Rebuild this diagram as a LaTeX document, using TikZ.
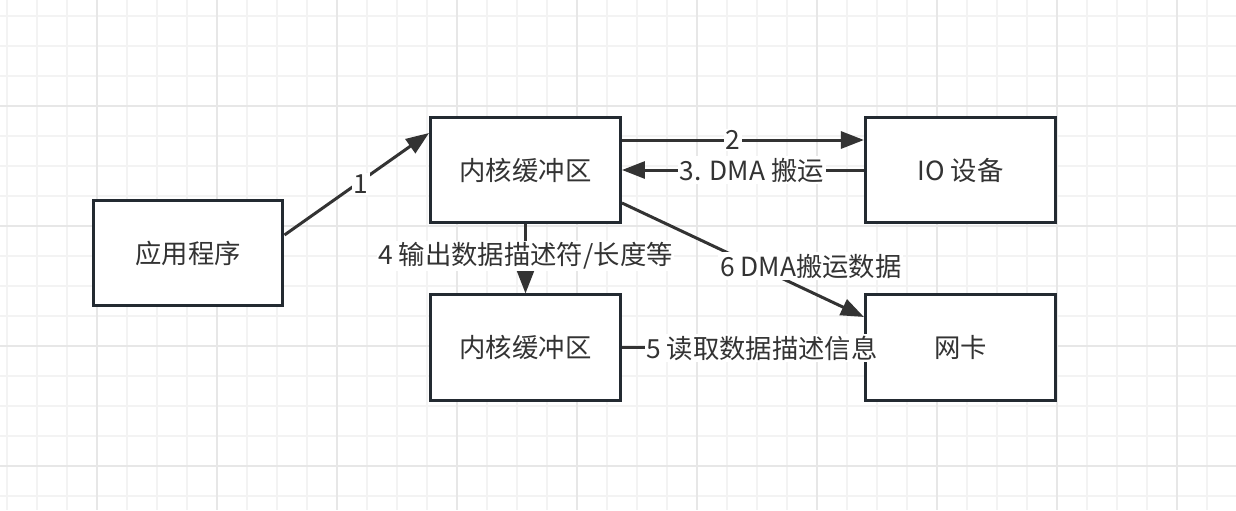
\documentclass[tikz,border=0pt]{standalone}
\usepackage{fontspec}
\setmainfont{Noto Sans CJK SC}
\usetikzlibrary{arrows.meta, positioning}

\definecolor{ink}{HTML}{333333}
\definecolor{edge}{HTML}{232A31}
\definecolor{gridminor}{HTML}{F3F3F3}
\definecolor{gridmajor}{HTML}{E7E7E7}

\begin{document}
\begin{tikzpicture}[
  x=0.02cm, y=-0.02cm,
  font=\fontsize{15}{18}\selectfont,
  node distance=1.38cm and 4.84cm,
  box/.style={draw=edge, line width=0.06cm, fill=white, text=ink, minimum width=3.8cm, minimum height=2.12cm, inner sep=0pt},
  arrow/.style={-{Triangle[length=0.46cm, width=0.34cm]}, draw=ink, line width=0.06cm},
  link/.style={draw=ink, line width=0.06cm},
  lbl/.style={fill=white, text=ink, inner sep=1pt},
  minor/.style={draw=gridminor, line width=0.03cm},
  major/.style={draw=gridmajor, line width=0.03cm}
]
\useasboundingbox (0,0) rectangle (1236,510);
\fill[white] (0,0) rectangle (1236,510);

% background grid
\foreach \gx in {7,37,...,1237} \draw[minor] (\gx,0) -- (\gx,510);
\foreach \gy in {16,46,...,506} \draw[minor] (0,\gy) -- (1236,\gy);
\foreach \gx in {97,217,...,1177} \draw[major] (\gx,0) -- (\gx,510);
\foreach \gy in {106,226,346,466} \draw[major] (0,\gy) -- (1236,\gy);

\node[box] (app) at (188,253) {应用程序};
\node[box] (kbuf) at (525.5,170) {内核缓冲区};
\node[box, right=of kbuf] (io) {IO 设备};
\node[box, below=of kbuf] (kbuf2) {内核缓冲区};
\node[box, right=of kbuf2] (nic) {网卡};

\draw[arrow] ([yshift=0.36cm]app.east) -- node[lbl, xshift=0.08cm]{1} ([yshift=0.74cm]kbuf.west);
\draw[arrow] ([yshift=0.6cm]kbuf.east) -- node[lbl, xshift=-0.2cm]{2} ([yshift=0.6cm]io.west);
\draw[arrow] (io.west) -- node[lbl, xshift=0.18cm]{3. DMA 搬运} (kbuf.east);
\draw[arrow] (kbuf.south) -- node[lbl, yshift=0.06cm]{4 输出数据描述符/长度等} (kbuf2.north);
\draw[link] (kbuf2.east) -- node[lbl, xshift=0.38cm]{5 读取数据描述信息} (nic.west);
\draw[arrow] ([yshift=-0.66cm]kbuf.east) -- node[lbl, xshift=1.36cm, yshift=-0.13cm]{6 DMA搬运数据} ([yshift=0.62cm]nic.west);
\end{tikzpicture}
\end{document}
